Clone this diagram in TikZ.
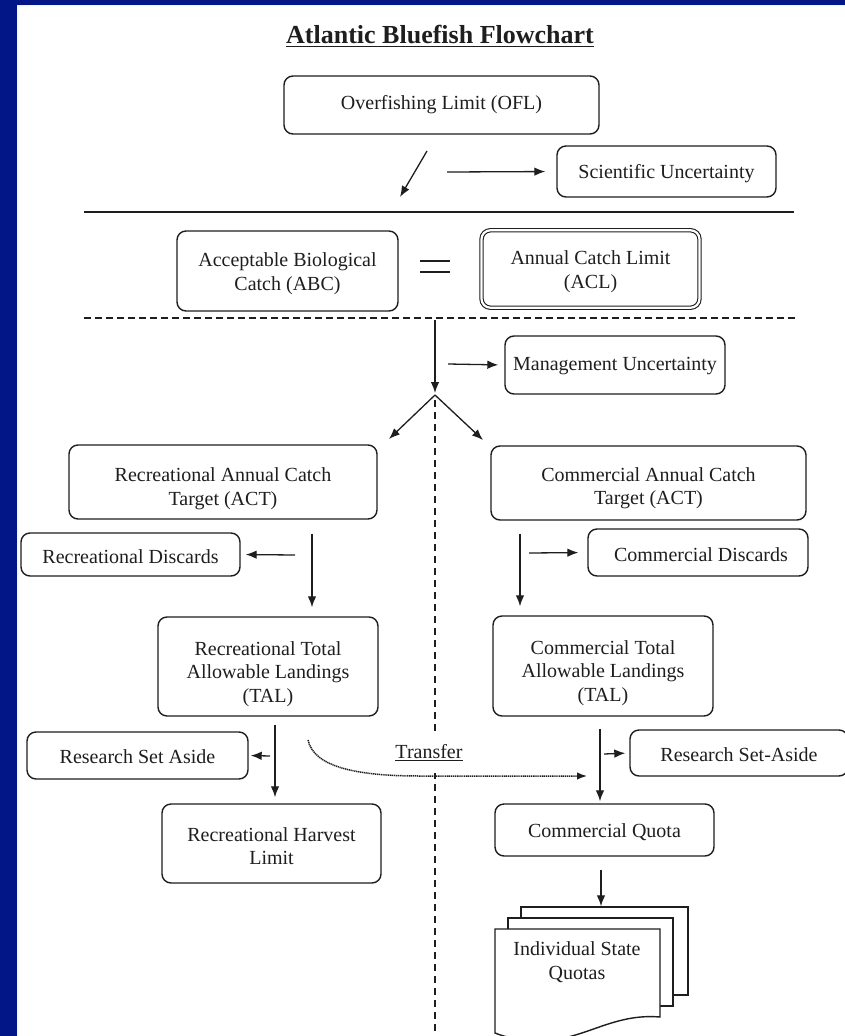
\documentclass[tikz,border=0pt]{standalone}
\usepackage{fontspec}
\setmainfont{Liberation Serif}
\usetikzlibrary{arrows.meta,calc}
\definecolor{navyframe}{RGB}{2,22,136}
\definecolor{ink}{RGB}{30,30,30}
\newcommand{\mystrut}[1]{\rule{0pt}{#1pt}}
\begin{document}
\begin{tikzpicture}[x=1pt,y=-1pt,
  txt/.style={font=\fontsize{20}{23.5}\selectfont, text=ink, align=center},
  box/.style={txt, draw=ink, line width=1.4pt, rounded corners=9pt, inner sep=0pt, fill=white},
  page/.style={draw=ink, line width=1.4pt, fill=white, inner sep=0pt},
  arr/.style={-{Latex[length=11pt,width=8.5pt]}, line width=1.3pt, draw=ink},
  sep/.style={line width=1.4pt, draw=ink},
  dsep/.style={line width=1.5pt, draw=ink, dash pattern=on 7pt off 4pt},
  vsep/.style={line width=1.5pt, draw=ink, dash pattern=on 7pt off 5pt},
  transferline/.style={line width=1.5pt, draw=ink, dash pattern=on 1.2pt off 0.7pt}
]
\useasboundingbox (0,0) rectangle (845,1036);
\clip (0,0) rectangle (845,1036);
\fill[navyframe] (0,0) rectangle (845,1036);
\fill[white] (17,5) rectangle (846,1037);

% title
\node[font=\fontsize{26}{30}\selectfont\bfseries, text=ink] (title) at (440,36) {\underline{Atlantic Bluefish Flowchart}};

% top section
\node[box, minimum width=315pt, minimum height=58pt] (ofl) at (441.5,105) {Overfishing Limit (OFL)};
\node[box, minimum width=219pt, minimum height=51pt] (sci) at (666.5,171.5) {\mystrut{18}Scientific Uncertainty};
\coordinate (s1) at (427,151);
\coordinate (s2) at (400,197);
\draw[arr] (s1) -- (s2);
\coordinate (sa) at (447,172);
\draw[arr, shorten >=11pt] (sa) -- (sci.west);

\coordinate (l1a) at (84,212);
\coordinate (l1b) at (794,212);
\draw[sep] (l1a) -- (l1b);

% ABC = ACL
\node[box, minimum width=221pt, minimum height=80pt] (abc) at (287.5,271) {\mystrut{19}Acceptable Biological\\Catch (ABC)};
\node[box, double=white, double distance=2.2pt, line width=1.1pt, minimum width=218pt, minimum height=77.5pt] (acl) at (590.5,269) {\mystrut{19}Annual Catch Limit\\(ACL)};
\coordinate (e1) at (420,261);
\coordinate (e2) at (450,261);
\coordinate (e3) at (420,272);
\coordinate (e4) at (450,272);
\draw[line width=1.8pt, draw=ink] (e1) -- (e2) (e3) -- (e4);

\coordinate (l2a) at (84,318);
\coordinate (l2b) at (795,318);
\draw[dsep] (l2a) -- (l2b);

% management uncertainty
\node[box, minimum width=220pt, minimum height=58pt] (mgmt) at (615,365) {\mystrut{16}Management Uncertainty};
\coordinate (dtop) at (435,320);
\coordinate (split) at (435,395);
\draw[arr, shorten >=2pt] (dtop) -- (split);
\coordinate (ma) at (448,364);
\draw[arr, shorten >=6pt] (ma) -- (mgmt.west);
\coordinate (la) at (389,439);
\coordinate (ra) at (483,440);
\draw[arr] (split) -- (la);
\draw[arr] (split) -- (ra);
\coordinate (dbot) at (435,1040);
\draw[vsep] ($(split)+(0,5)$) -- (dbot);

% ACT boxes
\node[box, minimum width=308pt, minimum height=74pt] (recact) at (223,482) {\mystrut{27}Recreational Annual Catch\\Target (ACT)};
\node[box, minimum width=315pt, minimum height=74pt] (comact) at (648.5,483) {\mystrut{24}Commercial Annual Catch\\Target (ACT)};

% discards
\node[box, minimum width=219pt, minimum height=43pt] (recdis) at (130.5,554.5) {\mystrut{19}Recreational Discards};
\node[box, minimum width=220pt, minimum height=47pt] (comdis) at (698,552.5) {\mystrut{19}\hspace*{6pt}Commercial Discards};
\coordinate (rd) at (295,555);
\draw[arr, shorten >=5pt] (rd) -- (recdis.east);
\coordinate (cd) at (529,553);
\draw[arr, shorten >=9pt] (cd) -- (comdis.west);

% TAL boxes
\node[box, minimum width=220pt, minimum height=99pt] (rectal) at (268,666.5) {\mystrut{29}Recreational Total\\Allowable Landings\\(TAL)};
\node[box, minimum width=220pt, minimum height=100pt] (comtal) at (603,666) {\mystrut{28}Commercial Total\\Allowable Landings\\(TAL)};
\coordinate (xr) at (312,0);
\draw[arr, shorten <=14pt, shorten >=9pt] (recact.south -| xr) -- (rectal.north -| xr);
\coordinate (xc) at (520,0);
\draw[arr, shorten <=13pt, shorten >=9pt] (comact.south -| xc) -- (comtal.north -| xc);

% research set aside
\node[box, minimum width=221pt, minimum height=47pt] (rsa) at (137.5,755.5) {\mystrut{17}Research Set Aside};
\node[box, minimum width=218pt, minimum height=46pt] (rsa2) at (739,753) {\mystrut{18}Research Set-Aside};
\coordinate (ra1) at (270,756);
\draw[arr, shorten >=2pt] (ra1) -- (rsa.east);
\coordinate (ca1) at (604,754);
\draw[arr, shorten >=4pt] (ca1) -- (rsa2.west);

% harvest limit and quota
\node[box, minimum width=219pt, minimum height=79pt] (harvest) at (271.5,843.5) {\mystrut{19}Recreational Harvest\\Limit};
\node[box, minimum width=219pt, minimum height=52pt] (quota) at (604.5,830) {\mystrut{18}Commercial Quota};
\coordinate (xr2) at (275,0);
\draw[arr, shorten <=8pt, shorten >=6pt] (rectal.south -| xr2) -- (harvest.north -| xr2);
\coordinate (xc2) at (600,0);
\draw[arr, shorten <=12pt, shorten >=2pt] (comtal.south -| xc2) -- (quota.north -| xc2);

% transfer
\coordinate (tstart) at (308,740);
\coordinate (tend) at (587,776);
\node[txt, fill=white, minimum height=40pt, inner xsep=2pt] (tlabel) at (429,753) {\underline{Transfer}};
\draw[transferline, -{Latex[length=10pt,width=7.5pt]}] (tstart) .. controls (314,768) and (360,776) .. (420,776) -- (tend);

% document stack
\node[page, minimum width=167pt, minimum height=88pt] (doc3) at (604.5,951) {};
\node[page, minimum width=165pt, minimum height=88pt] (doc2) at (590.5,962) {};
\filldraw[page] (495,929) -- (660,929) -- (660,1017)
  .. controls (612,1013) and (585,1040) .. (540,1041)
  .. controls (520,1041) and (505,1037) .. (495,1033) -- cycle;
\node[txt] (states) at (577,962) {Individual State\\Quotas};
\coordinate (xq) at (601,0);
\draw[arr, shorten <=13pt] (quota.south -| xq) -- (doc3.north -| xq);

\end{tikzpicture}
\end{document}
